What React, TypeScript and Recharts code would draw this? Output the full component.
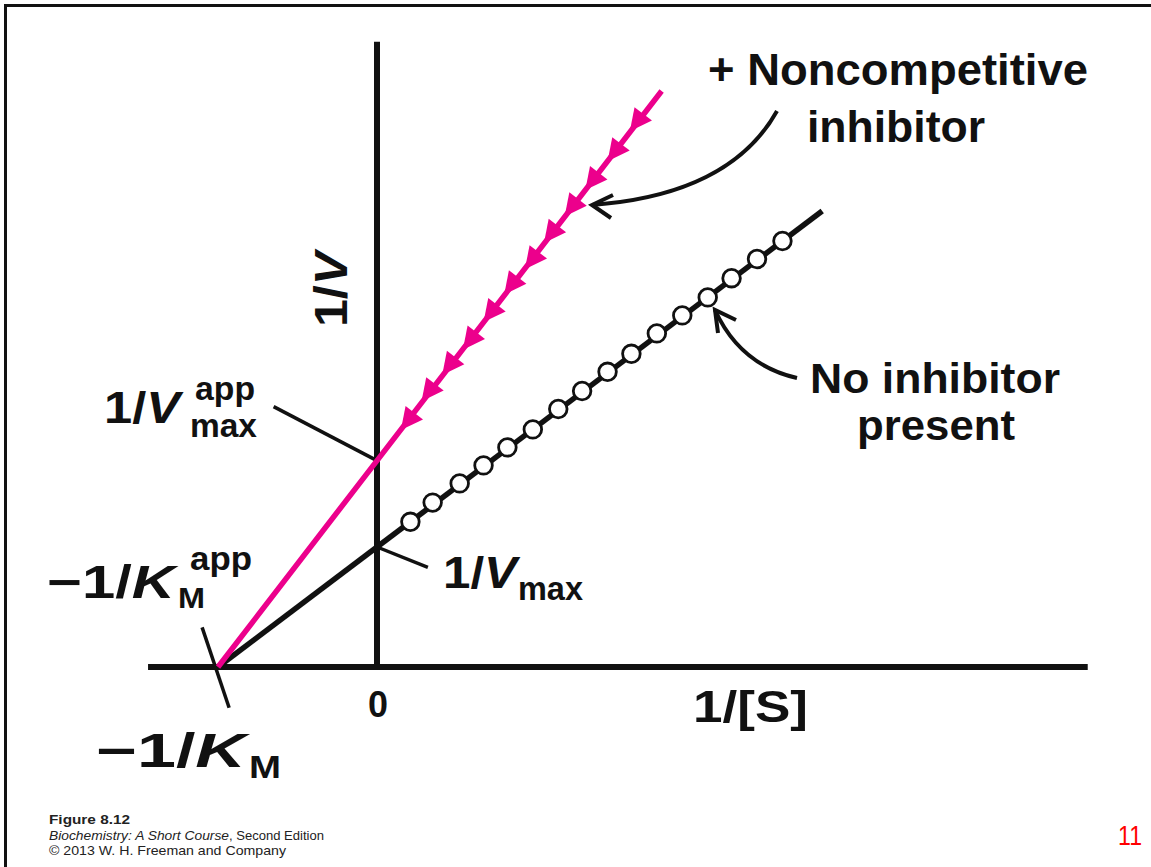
import React from "react";
import { ComposedChart, Line, Scatter, XAxis, YAxis, ReferenceLine } from "recharts";

const W = 1151;
const H = 867;
// pixel spot of the origin and the size of one data unit
const X0 = 377;
const Y0 = 667;
const XU = 159;
const YU = 120;
const XMIN = -X0 / XU;
const XMAX = (W - X0) / XU;
const YMIN = -(H - Y0) / YU;
const YMAX = Y0 / YU;

const PINK = "#ec008c";
const INK = "#111";

// 1/[S] and 1/V, no inhibitor
const plainLineX = [-1, 0, 2.8];
const plainLineY = [0, 1, 3.8];
const plainDotX = [0.21, 0.35, 0.52, 0.67, 0.82, 0.98, 1.14, 1.29, 1.45, 1.6, 1.76, 1.92, 2.08, 2.23, 2.39, 2.55];
const plainDotY = [1.21, 1.37, 1.53, 1.68, 1.83, 1.98, 2.15, 2.3, 2.46, 2.61, 2.78, 2.93, 3.08, 3.24, 3.4, 3.55];

// with noncompetitive inhibitor
const inhibLineX = [-1, 0, 1.79];
const inhibLineY = [0, 1.72, 4.8];
const inhibMarkX = [0.2, 0.33, 0.46, 0.59, 0.72, 0.85, 0.98, 1.1, 1.23, 1.36, 1.5, 1.64];
const inhibMarkY = [2.06, 2.3, 2.52, 2.73, 2.96, 3.19, 3.4, 3.62, 3.84, 4.06, 4.3, 4.55];

const zip = (xs: number[], ys: number[]) => xs.map((x, i) => ({ x, y: ys[i] }));

const plainLine = zip(plainLineX, plainLineY);
const plainDots = zip(plainDotX, plainDotY);
const inhibLine = zip(inhibLineX, inhibLineY);
const inhibMarks = zip(inhibMarkX, inhibMarkY);

// direction of the pink line on screen, pointing down-left
const ARROW_ANG = (Math.atan2(inhibLineY[2] * YU / (inhibLineX[2] + 1), -XU) * 180) / Math.PI;

const OpenDot = (p: any) => (
  <circle cx={p.cx} cy={p.cy} r={8.8} fill="#fff" stroke={INK} strokeWidth={2.8} />
);

const PinkArrow = (p: any) => (
  <polygon
    points="13,0 -9,-11 -9,11"
    fill={PINK}
    transform={`translate(${p.cx},${p.cy}) rotate(${ARROW_ANG})`}
  />
);

const big = { fontFamily: "'Liberation Sans', Arial, sans-serif", fontWeight: 700, fill: INK } as const;
const foot = { fontFamily: "'Liberation Sans', Arial, sans-serif", fill: "#222", fontSize: 13 } as const;
const fit = "spacingAndGlyphs";

export default function App() {
  return (
    <div style={{ position: "absolute", left: 0, top: 0, width: W, height: H, background: "#fff", overflow: "hidden" }}>
      <ComposedChart width={W} height={H} margin={{ top: 0, right: 0, bottom: 0, left: 0 }}>
        <XAxis type="number" dataKey="x" domain={[XMIN, XMAX]} allowDataOverflow hide />
        <YAxis type="number" domain={[YMIN, YMAX]} allowDataOverflow hide />
        <ReferenceLine segment={[{ x: -1.44, y: 0 }, { x: 4.47, y: 0 }]} stroke={INK} strokeWidth={6} />
        <ReferenceLine segment={[{ x: 0, y: 0 }, { x: 0, y: 5.21 }]} stroke={INK} strokeWidth={6} />
        {/* leader ticks */}
        <ReferenceLine segment={[{ x: -0.65, y: 2.17 }, { x: 0, y: 1.72 }]} stroke={INK} strokeWidth={3.5} />
        <ReferenceLine segment={[{ x: 0, y: 1 }, { x: 0.32, y: 0.83 }]} stroke={INK} strokeWidth={3.5} />
        <ReferenceLine segment={[{ x: -1.1, y: 0.33 }, { x: -0.93, y: -0.34 }]} stroke={INK} strokeWidth={3.5} />
        <Line data={plainLine} dataKey="y" type="linear" stroke={INK} strokeWidth={5.5} dot={false} isAnimationActive={false} />
        <Line data={inhibLine} dataKey="y" type="linear" stroke={PINK} strokeWidth={5.5} dot={false} isAnimationActive={false} />
        <Scatter data={plainDots} dataKey="y" shape={OpenDot} isAnimationActive={false} />
        <Scatter data={inhibMarks} dataKey="y" shape={PinkArrow} isAnimationActive={false} />
      </ComposedChart>

      <svg width={W} height={H} style={{ position: "absolute", left: 0, top: 0 }}>
        <path d="M5.5,867 L5.5,5.5 L1151,5.5" fill="none" stroke={INK} strokeWidth={3} />

        {/* callout arrows */}
        <path d="M777,111 Q730,195 592,205" fill="none" stroke={INK} strokeWidth={4} />
        <polyline points="613,195 592,205 611,218" fill="none" stroke={INK} strokeWidth={4} />
        <path d="M797,378 Q740,365 715,310" fill="none" stroke={INK} strokeWidth={4} />
        <polyline points="736,320 715,310 718,333" fill="none" stroke={INK} strokeWidth={4} />

        <text fontSize={44} style={big}>
          <tspan x={708} y={85} textLength={380} lengthAdjust={fit}>+ Noncompetitive</tspan>
          <tspan x={807} y={142} textLength={178} lengthAdjust={fit}>inhibitor</tspan>
        </text>
        <text fontSize={42} style={big}>
          <tspan x={810} y={393} textLength={250} lengthAdjust={fit}>No inhibitor</tspan>
          <tspan x={857} y={440} textLength={158} lengthAdjust={fit}>present</tspan>
        </text>

        <text transform="translate(347,327) rotate(-90)" fontSize={46} textLength={75} lengthAdjust={fit} style={big}>
          1/<tspan fontStyle="italic">V</tspan>
        </text>

        <text x={104} y={423} fontSize={44} textLength={76} lengthAdjust={fit} style={big}>
          1/<tspan fontStyle="italic">V</tspan>
        </text>
        <text fontSize={33} style={big}>
          <tspan x={195} y={400} textLength={60} lengthAdjust={fit}>app</tspan>
          <tspan x={190} y={437} textLength={67} lengthAdjust={fit}>max</tspan>
        </text>

        <text x={443} y={588} fontSize={44} textLength={74} lengthAdjust={fit} style={big}>
          1/<tspan fontStyle="italic">V</tspan>
        </text>
        <text x={518} y={600} fontSize={34} textLength={65} lengthAdjust={fit} style={big}>max</text>

        <text x={47} y={598} fontSize={46} textLength={128} lengthAdjust={fit} style={big}>
          −1/<tspan fontStyle="italic">K</tspan>
        </text>
        <text fontSize={32} style={big}>
          <tspan x={190} y={570} fontSize={33} textLength={62} lengthAdjust={fit}>app</tspan>
          <tspan x={178} y={608} fontSize={30} textLength={27} lengthAdjust={fit}>M</tspan>
        </text>

        <text x={96} y={767} fontSize={48} textLength={150} lengthAdjust={fit} style={big}>
          −1/<tspan fontStyle="italic">K</tspan>
        </text>
        <text x={249} y={778} fontSize={31} textLength={32} lengthAdjust={fit} style={big}>M</text>

        <text x={368} y={717} fontSize={36} textLength={20} lengthAdjust={fit} style={big}>0</text>
        <text x={693} y={722} fontSize={44} textLength={115} lengthAdjust={fit} style={big}>1/[S]</text>

        <text style={foot}>
          <tspan x={49} y={824} fontWeight={700} textLength={81} lengthAdjust={fit}>Figure 8.12</tspan>
          <tspan x={49} y={840} fontStyle="italic" textLength={180} lengthAdjust={fit}>Biochemistry: A Short Course</tspan>
          <tspan x={229} y={840} textLength={95} lengthAdjust={fit}>, Second Edition</tspan>
          <tspan x={49} y={855} textLength={237} lengthAdjust={fit}>© 2013 W. H. Freeman and Company</tspan>
        </text>

        <text x={1118} y={845} fontSize={28} textLength={24} lengthAdjust={fit} style={{ fontFamily: "'Liberation Sans', Arial, sans-serif", fill: "#f00" }}>11</text>
      </svg>
    </div>
  );
}
